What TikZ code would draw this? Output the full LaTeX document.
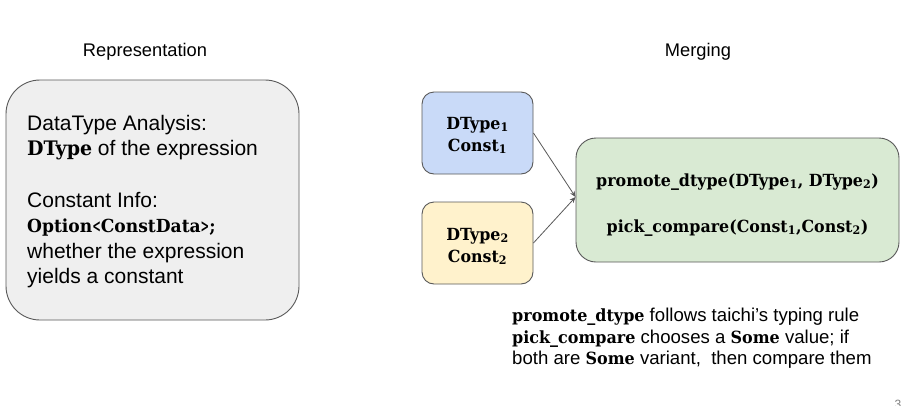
\documentclass[tikz,border=0pt]{standalone}
\usepackage{fontspec}
\usepackage{graphicx}
\setmainfont{Liberation Sans}
\newfontfamily\slab{DejaVu Serif}[FakeStretch=0.95]
\usetikzlibrary{arrows.meta}
\definecolor{edge}{HTML}{595959}
\definecolor{grayfill}{HTML}{EFEFEF}
\definecolor{bluefill}{HTML}{C9DAF8}
\definecolor{yellowfill}{HTML}{FFF2CC}
\definecolor{greenfill}{HTML}{D9EAD3}
\newcommand{\bslab}[2]{{\slab\bfseries\fontsize{#1}{#1}\selectfont #2}}
\newcommand{\narrowglyph}[1]{\scalebox{0.6}[1]{#1}}
\begin{document}
\begin{tikzpicture}[x=1pt,y=-1pt,
  box/.style={draw=edge, line width=0.9pt, inner sep=0pt},
  title/.style={font=\fontsize{18.3}{20}\selectfont, anchor=base, inner sep=0pt},
  ltext/.style={font=\fontsize{21}{25}\selectfont, anchor=base west, inner sep=0pt},
  btext/.style={font=\fontsize{18.6}{21}\selectfont, anchor=base west, inner sep=0pt},
  ctext/.style={font=\slab\bfseries\fontsize{16.7}{20}\selectfont, anchor=base, inner sep=0pt},
  link/.style={draw=edge, line width=0.8pt, -{Stealth[length=6pt,width=5pt]}}
]
\useasboundingbox (0,0) rectangle (905,405);
\fill[white] (0,0) rectangle (905,405);

% titles
\node[title] (t1) at (145,56.7) {Representation};
\node[title] (t2) at (698,56.7) {Merging};

% left box
\node[box, fill=grayfill, rounded corners=34pt, minimum width=293pt, minimum height=240pt] (rep) at (152.5,200) {};
\node[ltext] (l1) at (27,130) {DataType Analysis:};
\node[ltext] (l2) at (27,155) {\bslab{20}{DType} of the expression};
\node[ltext] (l3) at (27,207) {Constant Info:};
\node[ltext] (l4) at (27,232) {\bslab{18}{Option\narrowglyph{<}ConstData\narrowglyph{>};}};
\node[ltext] (l5) at (27,258) {whether the expression};
\node[ltext] (l6) at (27,283) {yields a constant};

% merging boxes
\node[box, fill=bluefill, rounded corners=12pt, minimum width=111pt, minimum height=82pt] (blue) at (477.5,133) {};
\node[box, fill=yellowfill, rounded corners=12pt, minimum width=111pt, minimum height=82pt] (yellow) at (477.5,243) {};
\node[box, fill=greenfill, rounded corners=20pt, minimum width=323pt, minimum height=124pt] (green) at (737.5,200) {};

\node[ctext] (b1) at (477.5,129) {DType\textsubscript{1}};
\node[ctext] (b2) at (477.5,151) {Const\textsubscript{1}};
\node[ctext] (y1) at (477.5,240) {DType\textsubscript{2}};
\node[ctext] (y2) at (477.5,262) {Const\textsubscript{2}};
\node[ctext] (g1) at (737.5,186) {promote\_dtype(DType\textsubscript{1}, DType\textsubscript{2})};
\node[ctext] (g2) at (737.5,232) {pick\_compare(Const\textsubscript{1},Const\textsubscript{2})};

\draw[link] (blue.east) -- ([yshift=3pt]green.west);
\draw[link] (yellow.east) -- ([yshift=3pt]green.west);

% notes
\node[btext] (n1) at (512,321) {\bslab{16.8}{promote\_dtype} follows taichi’s typing rule};
\node[btext] (n2) at (512,343) {\bslab{16.8}{pick\_compare} chooses a \bslab{16.8}{Some} value; if};
\node[btext] (n3) at (512,364) {both are \bslab{16.8}{Some} variant,\ \ then compare them};

% page number
\node[font=\fontsize{12}{12}\selectfont, text=gray, anchor=base, inner sep=0pt] (pg) at (898,408) {3};
\end{tikzpicture}
\end{document}
